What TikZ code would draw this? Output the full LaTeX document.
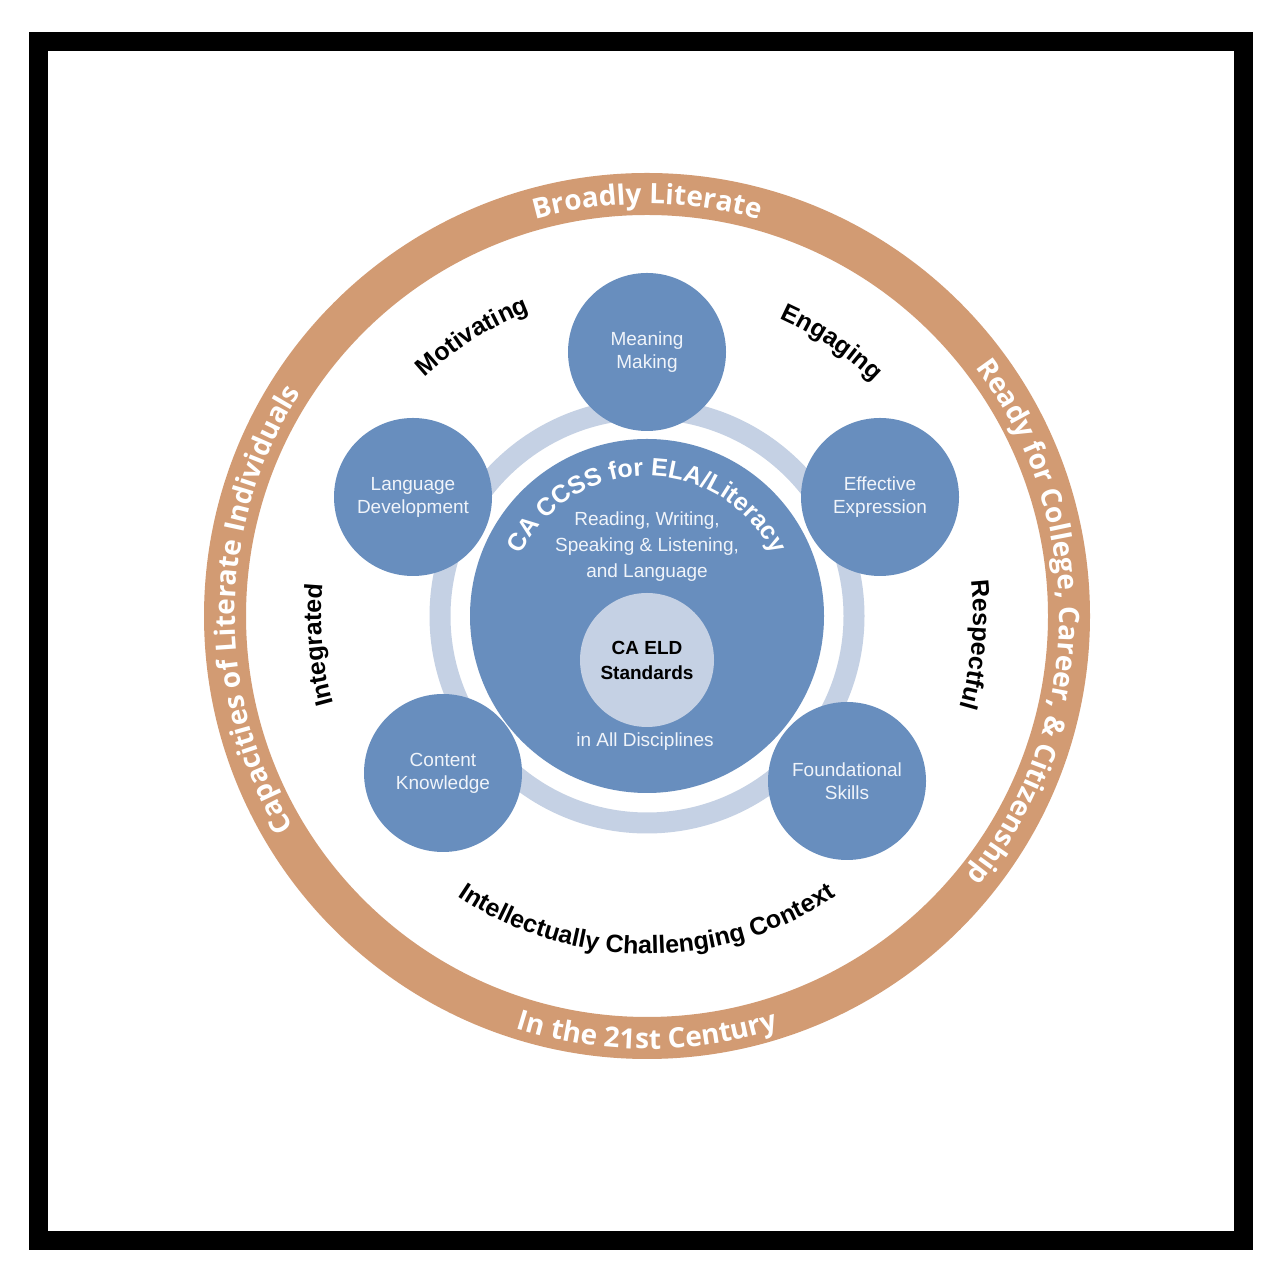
\documentclass[tikz,border=0pt]{standalone}
\usepackage{fontspec}
\setmainfont{Liberation Sans}
\newfontfamily\ringfont{Open Sans}
\usetikzlibrary{decorations.text}
\definecolor{ringor}{RGB}{210,155,115}
\definecolor{dblue}{RGB}{104,142,190}
\definecolor{lblue}{RGB}{197,209,228}
\definecolor{ltxt}{RGB}{240,244,250}
\newcommand{\rf}{\ringfont\bfseries\fontsize{28}{30}\selectfont}
\newcommand{\blkf}{\bfseries\fontsize{25}{28}\selectfont}
\tikzset{
 petal/.style={circle,fill=dblue,minimum size=158pt,inner sep=0pt,align=center,text=ltxt,font=\fontsize{19}{23}\selectfont},
}
\begin{document}
\begin{tikzpicture}[x=1pt,y=1pt]
\useasboundingbox (0,0) rectangle (1284,1284);
\fill[white] (0,0) rectangle (1284,1284);
\draw[line width=19pt] (38,43) rectangle (1243,1242);
\coordinate (C) at (647,668);
\draw[ringor,line width=42pt] (C) circle (422);
\draw[lblue,line width=21pt] (C) circle (207);
\fill[dblue] (C) circle (177);
\node[circle,fill=lblue,minimum size=134pt,inner sep=0pt,align=center,font=\bfseries\fontsize{19}{25}\selectfont] (eld) at (647,624) {CA ELD\\Standards};
\node[align=center,text=ltxt,font=\fontsize{19}{26}\selectfont] (rw) at (647,737) {Reading, Writing,\\Speaking \& Listening,\\and Language};
\node[text=ltxt,font=\fontsize{19}{23}\selectfont] (dis) at (645,542) {in All Disciplines};
\path[decorate,decoration={text along path,text align=center,text color=white,text={|\blkf|CA CCSS for ELA/Literacy}}] (C) ++(160:140) arc (160:20:140);
\node[petal] (mm) at (647,932) {Meaning\\Making};
\node[petal] (ee) at (880,787) {Effective\\Expression};
\node[petal] (fs) at (847,503) {Foundational\\Skills};
\node[petal] (ck) at (443,511) {Content\\Knowledge};
\node[petal] (ld) at (413,787) {Language\\Development};
% ring texts
\path[decorate,decoration={text along path,text align=center,text color=white,text={|\rf|Broadly Literate}}] (C) ++(135:412) arc (135:45:412);
\path[decorate,decoration={text along path,text align=center,text color=white,text={|\rf|Ready for College{,} Career{,} {\&} Citizenship}}] (C) ++(62:412) arc (62:-64:412);
\path[decorate,decoration={text along path,text align=center,text color=white,text={|\rf|Capacities of Literate Individuals}}] (C) ++(240:412) arc (240:118:412);
\path[decorate,decoration={text along path,text align=center,text color=white,text={|\rf|In the 21st Century}}] (C) ++(225:433) arc (225:315:433);
% black texts
\path[decorate,decoration={text along path,text align=center,text={|\blkf|Motivating}}] (C) ++(150:326) arc (150:94:326);
\path[decorate,decoration={text along path,text align=center,text={|\blkf|Engaging}}] (C) ++(84:326) arc (84:28:326);
\path[decorate,decoration={text along path,text align=center,text={|\blkf|Respectful}}] (C) ++(25:326) arc (25:-35:326);
\path[decorate,decoration={text along path,text align=center,text={|\blkf|Integrated}}] (C) ++(215:326) arc (215:155:326);
\path[decorate,decoration={text along path,text align=center,text={|\blkf|Intellectually Challenging Context}}] (C) ++(215:338) arc (215:325:338);
\end{tikzpicture}
\end{document}
